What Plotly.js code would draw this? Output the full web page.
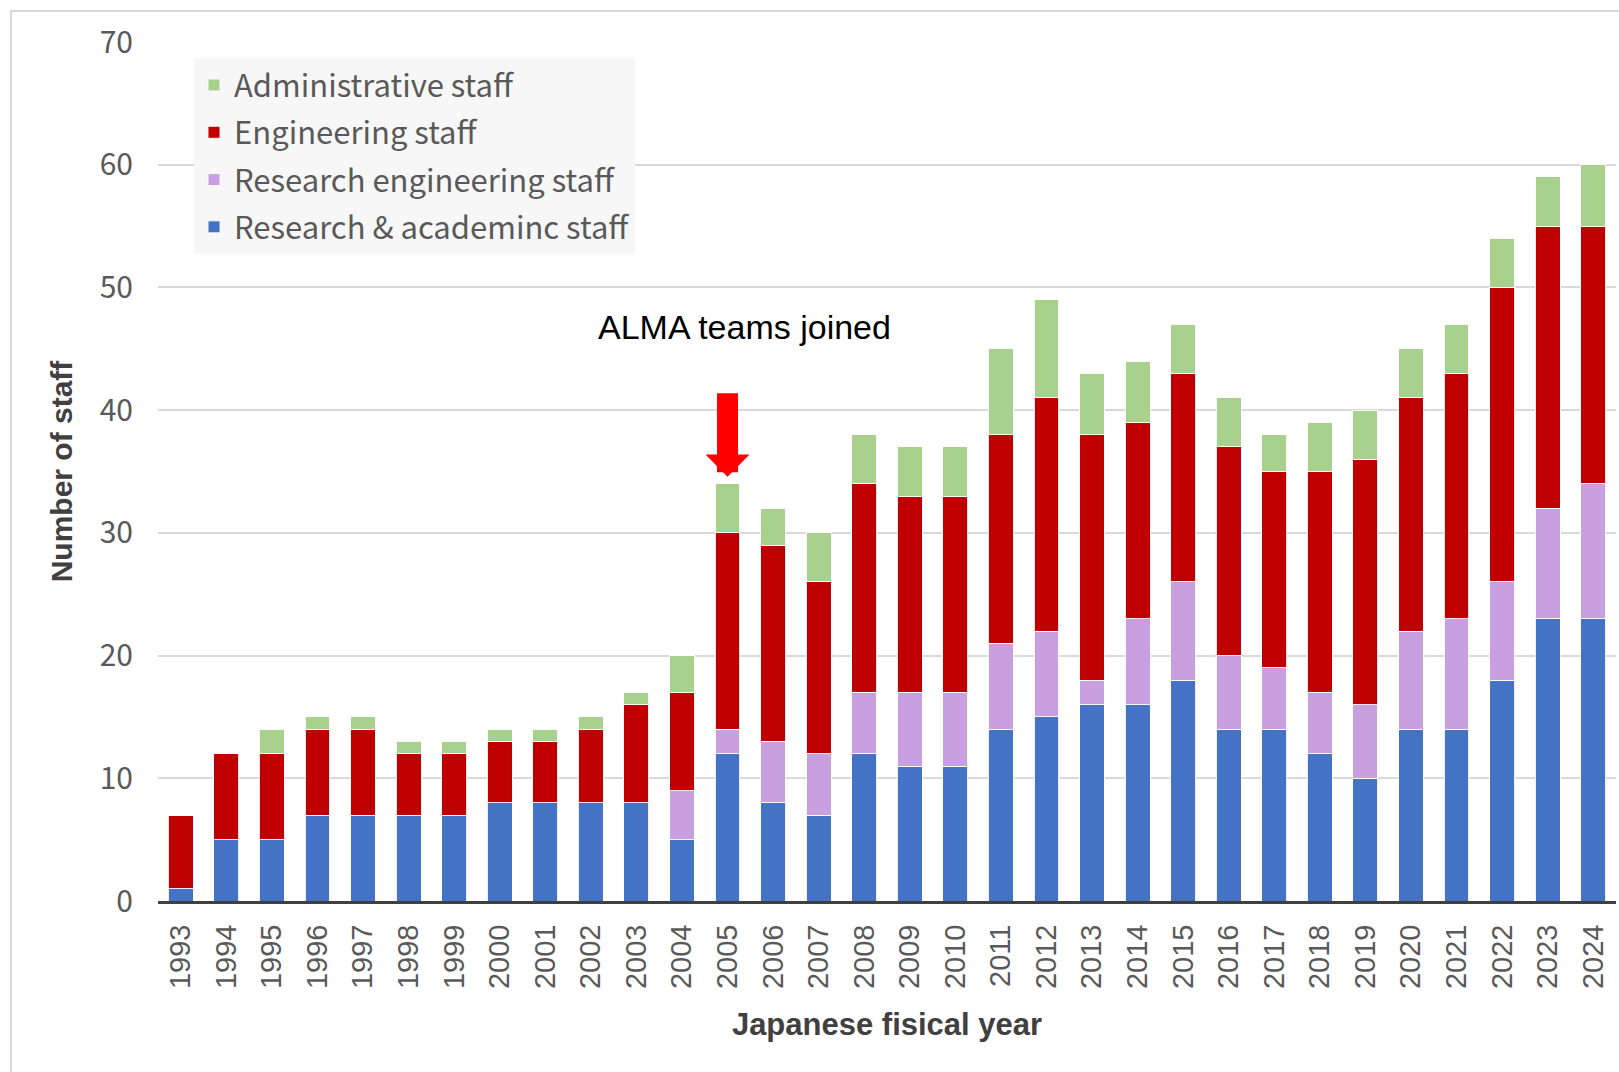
<!DOCTYPE html>
<html>
<head>
<meta charset="utf-8">
<script src="https://cdn.plot.ly/plotly-3.0.1.min.js"></script>
<style>
  html, body { margin: 0; padding: 0; background: #ffffff; overflow: hidden; }
  #chart { width: 1619px; height: 1072px; }
  #frame { position: absolute; left: 10px; top: 10px; width: 1700px; height: 1200px;
           border: 2px solid #d9d9d9; pointer-events: none; box-sizing: border-box; }
</style>
</head>
<body>
<div id="chart"></div>
<div id="frame"></div>
<script>
const years = ['1993','1994','1995','1996','1997','1998','1999','2000','2001','2002','2003','2004','2005','2006','2007','2008','2009','2010','2011','2012','2013','2014','2015','2016','2017','2018','2019','2020','2021','2022','2023','2024'];
const researchAcademic = [1,5,5,7,7,7,7,8,8,8,8,5,12,8,7,12,11,11,14,15,16,16,18,14,14,12,10,14,14,18,23,23];
const researchEngineering = [0,0,0,0,0,0,0,0,0,0,0,4,2,5,5,5,6,6,7,7,2,7,8,6,5,5,6,8,9,8,9,11];
const engineering = [6,7,7,7,7,5,5,5,5,6,8,8,16,16,14,17,16,16,17,19,20,16,17,17,16,18,20,19,20,24,23,21];
const administrative = [0,0,2,1,1,1,1,1,1,1,1,3,4,3,4,4,4,4,7,8,5,5,4,4,3,4,4,4,4,4,4,5];

const seriesNames = ['Research & academinc staff','Research engineering staff','Engineering staff','Administrative staff'];
const seriesColors = ['#4472C4','#C8A0E0','#C00000','#A9D18E'];
const seriesValues = [researchAcademic, researchEngineering, engineering, administrative];

const annotationText = 'ALMA teams joined';
const annotationYear = '2005';

const traces = seriesValues.map((vals, i) => ({
  type: 'bar',
  name: seriesNames[i],
  legendgroup: 'g' + i,
  legendrank: 1000 - i,
  x: years,
  y: vals,
  marker: { color: seriesColors[i], line: { color: 'rgba(255,255,255,0.9)', width: 1 } },
  hoverinfo: 'x+y+name'
}));

const layout = {
  width: 1619,
  height: 1072,
  barmode: 'stack',
  bargap: 0.455,
  paper_bgcolor: '#ffffff',
  plot_bgcolor: '#ffffff',
  margin: { l: 158, r: 3, t: 42, b: 171 },
  showlegend: true,
  legend: {
    x: 0.0247, y: 0.981, xanchor: 'left', yanchor: 'top',
    bgcolor: '#f7f7f7',
    traceorder: 'grouped',
    font: { family: 'Noto Sans CJK JP, Noto Sans, sans-serif', size: 31, color: '#595959' },
    itemwidth: 30,
    tracegroupgap: 4
  },
  xaxis: {
    type: 'category',
    range: [-0.5, years.length - 0.5],
    autorange: false,
    tickangle: -90,
    ticks: '',
    ticklabelstandoff: 9,
    tickfont: { family: 'Liberation Sans, Arial, sans-serif', size: 29, color: '#595959' },
    showline: true, linecolor: '#404040', linewidth: 3,
    showgrid: false,
    title: { text: 'Japanese fisical year', standoff: 26,
             font: { family: 'Liberation Sans, Arial, sans-serif', size: 31, color: '#404040', weight: 'bold' } },
    automargin: false
  },
  yaxis: {
    range: [0, 70],
    autorange: false,
    dtick: 10,
    ticks: '',
    ticklabelstandoff: 24,
    tickfont: { family: 'Noto Sans CJK JP, Noto Sans, sans-serif', size: 30, color: '#595959' },
    showgrid: true, gridcolor: '#d9d9d9', gridwidth: 2,
    zeroline: false,
    showline: false,
    title: { text: 'Number of staff', standoff: 18,
             font: { family: 'Liberation Sans, Arial, sans-serif', size: 30, color: '#404040', weight: 'bold' } },
    automargin: false
  },
  annotations: [
    {
      xref: 'paper', yref: 'paper', x: 0.4026, y: 0.668,
      xanchor: 'center', yanchor: 'middle',
      text: annotationText, showarrow: false,
      font: { family: 'Liberation Sans, Arial, sans-serif', size: 34, color: '#000000' }
    },
    {
      xref: 'x', yref: 'paper', x: years.indexOf(annotationYear), y: 0.494,
      text: '', showarrow: true,
      arrowhead: 1, arrowsize: 0.35, arrowwidth: 21, arrowcolor: '#FF0000',
      ax: 0, ay: -85, standoff: 0
    }
  ]
};

Plotly.newPlot('chart', traces, layout, { displayModeBar: false, staticPlot: true });
</script>
</body>
</html>
